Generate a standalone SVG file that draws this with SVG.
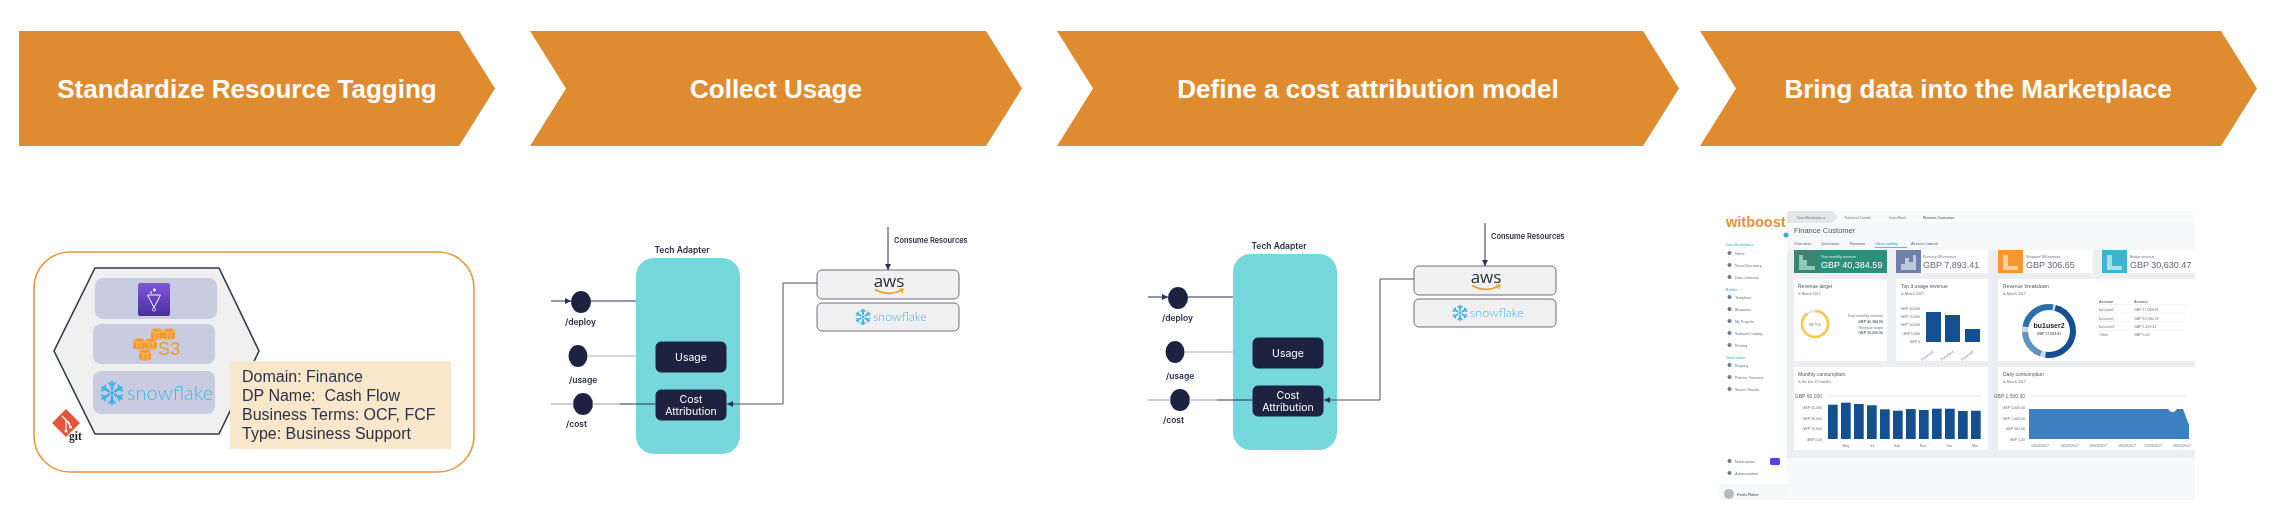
<svg xmlns="http://www.w3.org/2000/svg" width="2280" height="532" viewBox="0 0 2280 532">
<style>
text{font-family:"Liberation Sans",Arial,sans-serif;white-space:pre}
.step{fill:#df8c31}
.stept{fill:#fff;font-size:26px;font-weight:700;text-anchor:middle}
.tag{fill:#2b3048;font-size:16px}
.inter{font-family:Inter,"Liberation Sans",sans-serif;fill:#1f2540;font-weight:600}
.ta{fill:#76d7dd}
.box{fill:#1d2440;stroke:#1d2440}
.boxt{fill:#fff;font-size:10.5px;text-anchor:middle;font-family:Inter,"Liberation Sans",sans-serif}
.port{fill:#1d2440}
.svc{fill:#f0f0f0;stroke:#6b6e78;stroke-width:1}
.dark{fill:none;stroke:#2b3150;stroke-width:1}
.mid{fill:none;stroke:#4a5068;stroke-width:1}
.light{fill:none;stroke:#a9acbc;stroke-width:1.2}
.sn{fill:#4ab5e6;font-family:Lato,"Liberation Sans",sans-serif;font-weight:300}
.row{fill:#c9cce0}
.p{fill:#fff}
.s{font-size:3.6px;fill:#6b7280}
.m{font-size:4px;fill:#55606e}
.h{font-size:5px;fill:#555}
.b{fill:#14508f}
.k{font-size:9px;fill:#667}
.ti{fill:#667a88}
</style>
<defs>
<marker id="ah" markerWidth="7" markerHeight="7" refX="6" refY="3" orient="auto" markerUnits="userSpaceOnUse"><path d="M0 0L6 3L0 6Z" fill="#2b3150"/></marker>
<filter id="soft" x="-2%" y="-2%" width="104%" height="104%"><feGaussianBlur stdDeviation="0.35"/></filter>
<filter id="softer" x="-2%" y="-2%" width="104%" height="104%"><feGaussianBlur stdDeviation="0.55"/></filter>
<linearGradient id="pg" x1="0" y1="0" x2="0" y2="1"><stop offset="0" stop-color="#7d57dc"/><stop offset="1" stop-color="#4c2e9e"/></linearGradient>
<symbol id="flake" viewBox="-11 -11 22 22" overflow="visible">
<g fill="none" stroke="#3fb0e8" stroke-width="2.4" stroke-linecap="round">
<path d="M0 -10V-3.5M0 10V3.5M-8.7 -5L-3 -1.8M8.7 -5L3 -1.8M-8.7 5L-3 1.8M8.7 5L3 1.8"/>
<path d="M-3 -9L0 -6.5L3 -9M-3 9L0 6.5L3 9M-9.3 -2L-6 -3.5L-6.2 -7M9.3 -2L6 -3.5L6.2 -7M-9.3 2L-6 3.5L-6.2 7M9.3 2L6 3.5L6.2 7" stroke-width="1.6"/>
</g><path d="M0 -2.2L2.2 0L0 2.2L-2.2 0Z" fill="#3fb0e8"/>
</symbol>
<g id="cube"><path d="M-6 -3L-3 -5.5H3L6 -3V4L3 5.5H-3L-6 4Z" fill="#f59a2f"/><path d="M-6 -3L0 -1L6 -3M-2 -1V5.5M2 -1V5.5" fill="none" stroke="#fbc98c" stroke-width="0.7"/></g>
<g id="aws-logo"><text x="0" y="0" text-anchor="middle" font-size="17" style="font-family:'Open Sans','Liberation Sans',sans-serif" fill="#2b2f38">aws</text><path d="M-14 2.5Q0 10 13 3" fill="none" stroke="#f39a1f" stroke-width="1.6"/><path d="M10 2L14 2L13 6" fill="none" stroke="#f39a1f" stroke-width="1.2"/></g>
</defs>

<g id="step-1"><path class="step" d="M19 31H459L495 88.5L459 146H19Z"/><text class="stept" x="247" y="98">Standardize Resource Tagging</text></g>
<g id="step-2"><path class="step" d="M530 31H986L1022 88.5L986 146H530L566 88.5Z"/><text class="stept" x="776" y="98">Collect Usage</text></g>
<g id="step-3"><path class="step" d="M1057 31H1643L1679 88.5L1643 146H1057L1093 88.5Z"/><text class="stept" x="1368" y="98">Define a cost attribution model</text></g>
<g id="step-4"><path class="step" d="M1700 31H2221L2257 88.5L2221 146H1700L1736 88.5Z"/><text class="stept" x="1978" y="98">Bring data into the Marketplace</text></g>

<g id="data-product" filter="url(#soft)">
<rect x="34" y="252" width="440" height="220" rx="36" fill="#fff" stroke="#e8963c" stroke-width="1.6"/>
<path d="M95 268H219L259 351L219 434H95L54 351Z" fill="#f0f0f0" stroke="#333a4a" stroke-width="1.6"/>
<rect class="row" x="95" y="278" width="122" height="41" rx="8"/>
<rect class="row" x="93" y="324" width="122" height="40" rx="8"/>
<rect class="row" x="93" y="371" width="122" height="43" rx="8"/>
<rect x="138" y="283" width="32" height="33" rx="2" fill="url(#pg)"/>
<path d="M147.5 295H160.5L154 307.5Z" fill="none" stroke="#fff" stroke-width="1"/><circle cx="154" cy="309.5" r="1.6" fill="none" stroke="#fff" stroke-width=".7"/><circle cx="154.5" cy="290" r="1.4" fill="#fff"/><circle cx="151" cy="292.5" r="1" fill="#fff"/>
<use href="#cube" x="157" y="334"/><use href="#cube" x="169" y="334"/><use href="#cube" x="139" y="344"/><use href="#cube" x="151" y="344"/><use href="#cube" x="145" y="355"/>
<text x="158" y="355" font-size="18" fill="#f29a2e">S3</text>
<use href="#flake" x="100" y="381" width="24" height="24"/>
<text class="sn" x="127" y="400" font-size="20">snowflake</text>
<path d="M66 409L80 423L66 437L52 423Z" fill="#e4573a"/><path d="M62 416L70 424M66 420V431M66 420L71 427" stroke="#fff" stroke-width="1.2" fill="none"/><circle cx="66" cy="431" r="1.5" fill="#fff"/><circle cx="70.500" cy="427" r="1.5" fill="#fff"/>
<text x="69" y="440" font-size="11.500" font-weight="700" style="font-family:'Liberation Serif',serif" fill="#222">git</text>
<rect x="230" y="361" width="221" height="88" fill="#f9e7cc"/>
<text class="tag" x="242" y="382">Domain: Finance</text>
<text class="tag" x="242" y="401">DP Name:  Cash Flow</text>
<text class="tag" x="242" y="420">Business Terms: OCF, FCF</text>
<text class="tag" x="242" y="439">Type: Business Support</text>
</g>

<g id="adapter-a-nodes" filter="url(#soft)">
<g id="a-tech-adapter"><rect class="ta" x="636" y="258" width="104" height="196" rx="18"/><text class="inter" x="682" y="253" text-anchor="middle" font-size="8.500">Tech Adapter</text></g>
<g id="a-usage"><rect class="box" x="656" y="342" width="70" height="30" rx="5"/><text class="boxt" x="691" y="361">Usage</text></g>
<g id="a-cost"><rect class="box" x="656" y="390" width="70" height="30" rx="5"/><text class="boxt" x="691" y="403">Cost</text><text class="boxt" x="691" y="414.500">Attribution</text></g>
<g id="a-deploy-port"><ellipse class="port" cx="581" cy="302" rx="10" ry="11"/><text class="inter" x="565" y="325" font-size="8.500">/deploy</text></g>
<g id="a-usage-port"><ellipse class="port" cx="578" cy="356" rx="9.500" ry="11"/><text class="inter" x="569" y="383" font-size="8.500">/usage</text></g>
<g id="a-cost-port"><ellipse class="port" cx="583" cy="404" rx="10" ry="11"/><text class="inter" x="566" y="427" font-size="8.500">/cost</text></g>
<g id="a-aws"><rect class="svc" x="817" y="270" width="142" height="29" rx="5"/><use href="#aws-logo" x="889" y="287"/></g>
<g id="a-snowflake"><rect class="svc" x="817" y="303" width="142" height="28" rx="5"/><use href="#flake" x="855" y="309" width="16" height="16"/><text class="sn" x="873" y="321" font-size="12.500">snowflake</text></g>
<g id="a-consume"><text class="inter" x="894" y="243" font-size="7.400">Consume Resources</text></g>
</g>
<g id="adapter-a-connectors">
<path class="dark" d="M551 301H571" marker-end="url(#ah)"/>
<path class="dark" d="M590 301H636"/>
<path class="light" d="M587 356H636"/>
<path class="light" d="M551 404H574"/>
<path class="light" d="M592 404H620"/>
<path class="dark" d="M620 404H656"/>
<path class="dark" d="M888 227V270" marker-end="url(#ah)"/>
<path class="mid" d="M817 283H783V404H727" marker-end="url(#ah)"/>
</g>

<g id="adapter-b-nodes" filter="url(#soft)">
<g id="b-tech-adapter" transform="translate(597 -4)"><rect class="ta" x="636" y="258" width="104" height="196" rx="18"/><text class="inter" x="682" y="253" text-anchor="middle" font-size="8.500">Tech Adapter</text></g>
<g id="b-usage" transform="translate(597 -4)"><rect class="box" x="656" y="342" width="70" height="30" rx="5"/><text class="boxt" x="691" y="361">Usage</text></g>
<g id="b-cost" transform="translate(597 -4)"><rect class="box" x="656" y="390" width="70" height="30" rx="5"/><text class="boxt" x="691" y="403">Cost</text><text class="boxt" x="691" y="414.500">Attribution</text></g>
<g id="b-deploy-port" transform="translate(597 -4)"><ellipse class="port" cx="581" cy="302" rx="10" ry="11"/><text class="inter" x="565" y="325" font-size="8.500">/deploy</text></g>
<g id="b-usage-port" transform="translate(597 -4)"><ellipse class="port" cx="578" cy="356" rx="9.500" ry="11"/><text class="inter" x="569" y="383" font-size="8.500">/usage</text></g>
<g id="b-cost-port" transform="translate(597 -4)"><ellipse class="port" cx="583" cy="404" rx="10" ry="11"/><text class="inter" x="566" y="427" font-size="8.500">/cost</text></g>
<g id="b-aws" transform="translate(597 -4)"><rect class="svc" x="817" y="270" width="142" height="29" rx="5"/><use href="#aws-logo" x="889" y="287"/></g>
<g id="b-snowflake" transform="translate(597 -4)"><rect class="svc" x="817" y="303" width="142" height="28" rx="5"/><use href="#flake" x="855" y="309" width="16" height="16"/><text class="sn" x="873" y="321" font-size="12.500">snowflake</text></g>
<g id="b-consume" transform="translate(597 -4)"><text class="inter" x="894" y="243" font-size="7.400">Consume Resources</text></g>
</g>
<g id="adapter-b-connectors" transform="translate(597 -4)">
<path class="dark" d="M551 301H571" marker-end="url(#ah)"/>
<path class="dark" d="M590 301H636"/>
<path class="light" d="M587 356H636"/>
<path class="light" d="M551 404H574"/>
<path class="light" d="M592 404H620"/>
<path class="dark" d="M620 404H656"/>
<path class="dark" d="M888 227V270" marker-end="url(#ah)"/>
<path class="mid" d="M817 283H783V404H727" marker-end="url(#ah)"/>
</g>

<g id="marketplace-screenshot" filter="url(#softer)">
<rect x="1787" y="211" width="408" height="247" fill="#eceef1"/>
<rect x="1787" y="223" width="408" height="27" fill="#f6f7f8"/>
<rect x="1787" y="211" width="408" height="12" fill="#f9fafa"/>
<path d="M1787 211H1832L1838 217L1832 223H1787Z" fill="#e4e6ea"/>
<rect x="1787" y="458" width="408" height="42" fill="#f7f8f9"/>
<rect x="1719" y="484" width="68" height="16" fill="#f6f7f8"/>

<text class="s" x="1797" y="218.500">Data Marketplace</text><text class="s" x="1844" y="218.500">Technical Details</text><text class="s" x="1889" y="218.500">Data Mesh</text><text class="s" x="1923" y="218.500" font-weight="700">Finance Customer</text>
<text x="1726" y="227" font-size="14.500" font-weight="700" fill="#e8923a">witboost</text>
<circle cx="1786" cy="235" r="2.500" fill="#36a9d6"/>
<g>
<text class="s" x="1726" y="245.500" style="fill:#36a9c6">Data Marketplace</text>
<circle class="ti" cx="1729.500" cy="253" r="2"/><text class="s" x="1735" y="254.500">Home</text>
<circle class="ti" cx="1729.500" cy="265" r="2"/><text class="s" x="1735" y="266.500">Visual Discovery</text>
<circle class="ti" cx="1729.500" cy="277" r="2"/><text class="s" x="1735" y="278.500">Data Contracts</text>
<text class="s" x="1726" y="290.500" style="fill:#36a9c6">Builder</text>
<circle class="ti" cx="1729.500" cy="297" r="2"/><text class="s" x="1735" y="298.500">Templates</text>
<circle class="ti" cx="1729.500" cy="309" r="2"/><text class="s" x="1735" y="310.500">Blueprints</text>
<circle class="ti" cx="1729.500" cy="321" r="2"/><text class="s" x="1735" y="322.500">My Projects</text>
<circle class="ti" cx="1729.500" cy="333" r="2"/><text class="s" x="1735" y="334.500">Software Catalog</text>
<circle class="ti" cx="1729.500" cy="345" r="2"/><text class="s" x="1735" y="346.500">Resting</text>
<text class="s" x="1726" y="358.500" style="fill:#36a9c6">Governance</text>
<circle class="ti" cx="1729.500" cy="365" r="2"/><text class="s" x="1735" y="366.500">Registry</text>
<circle class="ti" cx="1729.500" cy="377" r="2"/><text class="s" x="1735" y="378.500">Policies Overview</text>
<circle class="ti" cx="1729.500" cy="389" r="2"/><text class="s" x="1735" y="390.500">Search Results</text>
<circle class="ti" cx="1729.500" cy="461" r="2"/><text class="s" x="1735" y="462.500">Notifications</text>
<rect x="1770" y="458" width="10" height="7" rx="1.500" fill="#5b3ff0"/>
<circle class="ti" cx="1729.500" cy="473" r="2"/><text class="s" x="1735" y="474.500">Administration</text>
<circle cx="1729" cy="494" r="5" fill="#b5b8bc"/><text class="s" x="1737" y="495.500" font-weight="700">Paolo Platter</text>
</g>
<text x="1794" y="233" font-size="7.500" fill="#555">Finance Customer</text>
<text class="m" x="1794" y="245">Overview</text><text class="m" x="1821" y="245">Questions</text><text class="m" x="1850" y="245">Reviews</text><text class="m" x="1875" y="245" style="fill:#36a0b0">Observability</text><text class="m" x="1911" y="245">Access Control</text>
<rect x="1875" y="247" width="32" height=".8" fill="#36a9c6"/>

<rect x="1794" y="250" width="93" height="23" fill="#2f8f7c"/><rect x="1794" y="250" width="25" height="23" fill="#3a8571"/>
<rect x="1896" y="250" width="92" height="23" class="p"/><rect x="1896" y="250" width="25" height="23" fill="#7080a8"/>
<rect x="1998" y="250" width="95" height="23" class="p"/><rect x="1998" y="250" width="25" height="23" fill="#f7972e"/>
<rect x="2102" y="250" width="93" height="23" class="p"/><rect x="2102" y="250" width="25" height="23" fill="#3eb5d0"/>
<path d="M1799 270V255H1803V260H1807V266H1815V270Z" fill="#8fc9b8"/><path d="M1901 270V264H1905V258H1909V262H1913V255H1916V270Z" fill="#c0c9dc"/><path d="M2003 270V255H2008V266H2018V270Z" fill="#fbd0a0"/><path d="M2107 270V255H2112V266H2122V270Z" fill="#a8e0ea"/>
<text class="s" x="1821" y="258" style="fill:#e0f0ea">Year monthly revenue</text><text class="k" x="1821" y="268" style="fill:#fff">GBP 40,384.59</text>
<text class="s" x="1923" y="258">Running 6M revenue</text><text class="k" x="1923" y="268">GBP 7,893.41</text>
<text class="s" x="2026" y="258">Shopped 1M revenue</text><text class="k" x="2026" y="268">GBP 306.65</text>
<text class="s" x="2130" y="258">Bridge revenue</text><text class="k" x="2130" y="268">GBP 30,630.47</text>

<rect class="p" x="1794" y="279" width="93" height="82"/><rect class="p" x="1896" y="279" width="92" height="82"/><rect class="p" x="1998" y="279" width="197" height="82"/>
<rect class="p" x="1794" y="367" width="194" height="83"/><rect class="p" x="1998" y="367" width="197" height="83"/>

<text class="h" x="1798" y="288">Revenue target</text><text class="s" x="1798" y="295">in March 2017</text>
<circle cx="1815" cy="324" r="13" fill="none" stroke="#e6e6e6" stroke-width="2.500"/><circle cx="1815" cy="324" r="13" fill="none" stroke="#fbc94a" stroke-width="2.500" stroke-dasharray="73 82" transform="rotate(-90 1815 324)"/>
<text class="s" x="1815" y="325.500" text-anchor="middle">98.71%</text>
<g text-anchor="end"><text class="s" x="1883" y="316.500">Total monthly revenue</text><text class="s" x="1883" y="322.500" font-weight="700">GBP 40,384.59</text><text class="s" x="1883" y="328.500">Revenue target</text><text class="s" x="1883" y="334" font-weight="700">GBP 35,000.00</text></g>

<text class="h" x="1901" y="288">Top 3 usage revenue</text><text class="s" x="1901" y="295">in March 2017</text>
<g text-anchor="end"><text class="s" x="1920" y="309.500">GBP 20,000</text><text class="s" x="1920" y="317.500">GBP 15,000</text><text class="s" x="1920" y="325.500">GBP 10,000</text><text class="s" x="1920" y="334.500">GBP 5,000</text><text class="s" x="1920" y="342.500">GBP 0</text></g>
<rect class="b" x="1926" y="312" width="15" height="30"/><rect class="b" x="1945" y="315" width="15" height="27"/><rect class="b" x="1965" y="329" width="15" height="13"/>
<text class="s" transform="rotate(-35 1930 355)" x="1920" y="355">bu1user2</text><text class="s" transform="rotate(-35 1950 355)" x="1940" y="355">bu1user1</text><text class="s" transform="rotate(-35 1970 355)" x="1960" y="355">bu1user3</text>

<text class="h" x="2003" y="288">Revenue breakdown</text><text class="s" x="2003" y="295">in March 2017</text>
<g fill="none" stroke-width="6"><circle cx="2049" cy="331" r="24" stroke="#c7d6e8"/><circle cx="2049" cy="331" r="24" stroke="#14508f" stroke-dasharray="72 79" stroke-dashoffset="0" transform="rotate(-75 2049 331)"/><circle cx="2049" cy="331" r="24" stroke="#5b94c8" stroke-dasharray="28 123" transform="rotate(110 2049 331)"/><circle cx="2049" cy="331" r="24" stroke="#2c6fae" stroke-dasharray="37 114" transform="rotate(190 2049 331)"/></g>
<text x="2049" y="328" text-anchor="middle" font-size="7" font-weight="700" fill="#222">bu1user2</text><text class="s" x="2049" y="335" text-anchor="middle" font-weight="700">GBP 17,083.81</text>
<g><text class="s" x="2099" y="302.500" font-weight="700">Account</text><text class="s" x="2134" y="302.500" font-weight="700">Amount</text>
<text class="s" x="2099" y="311">bu1user2</text><text class="s" x="2134" y="311">GBP 17,083.81</text>
<text class="s" x="2099" y="319.500">bu1user1</text><text class="s" x="2134" y="319.500">GBP 10,565.23</text>
<text class="s" x="2099" y="328">bu1user3</text><text class="s" x="2134" y="328">GBP 1,429.41</text>
<text class="s" x="2099" y="336">Other</text><text class="s" x="2134" y="336">GBP 5.00</text>
<path d="M2099 304.500H2186M2099 313H2186M2099 321.500H2186M2099 330H2186" stroke="#e4e6ea" stroke-width=".5"/></g>

<text class="h" x="1798" y="376">Monthly consumption</text><text class="s" x="1798" y="383">in the last 12 months</text>
<rect x="1827" y="395" width="155" height="2.500" fill="#f3f3f3"/>
<g text-anchor="end"><text x="1822" y="398" font-size="5" fill="#666">GBP 60,000</text><text class="s" x="1822" y="408.500">GBP 45,000</text><text class="s" x="1822" y="419.500">GBP 30,000</text><text class="s" x="1822" y="429.500">GBP 15,000</text><text class="s" x="1822" y="440.500">GBP 0.00</text></g>
<g class="b"><rect x="1828" y="404.700" width="9.700" height="34.300"/><rect x="1841" y="402.700" width="9.700" height="36.300"/><rect x="1854" y="404" width="9.700" height="35"/><rect x="1867" y="405.300" width="9.700" height="33.700"/><rect x="1880" y="409.300" width="9.700" height="29.700"/><rect x="1893" y="410.700" width="9.700" height="28.300"/><rect x="1906" y="409" width="9.700" height="30"/><rect x="1919" y="410" width="9.700" height="29"/><rect x="1932" y="408.700" width="9.700" height="30.300"/><rect x="1945" y="408.700" width="9.700" height="30.300"/><rect x="1958" y="411" width="9.700" height="28"/><rect x="1971" y="410.700" width="9.700" height="28.300"/></g>
<g text-anchor="middle"><text class="s" x="1846" y="446.500">May</text><text class="s" x="1872" y="446.500">Jul</text><text class="s" x="1897" y="446.500">Sep</text><text class="s" x="1923" y="446.500">Nov</text><text class="s" x="1949" y="446.500">Jan</text><text class="s" x="1975" y="446.500">Mar</text></g>

<text class="h" x="2003" y="376">Daily consumption</text><text class="s" x="2003" y="383">in March 2017</text>
<rect x="2029" y="395" width="158" height="2.500" fill="#f3f3f3"/>
<g text-anchor="end"><text x="2025" y="398" font-size="5" fill="#666">GBP 1,500.00</text><text class="s" x="2025" y="408.500">GBP 1,000.00</text><text class="s" x="2025" y="419.500">GBP 1,000.00</text><text class="s" x="2025" y="429.500">GBP 500.00</text><text class="s" x="2025" y="440.500">GBP 0.00</text></g>
<path d="M2029 409H2168L2171 412H2174L2177 409H2183L2189 425V439H2029Z" fill="#3d80bf"/>
<g text-anchor="middle"><text class="s" x="2040" y="446.500">13/03/2017</text><text class="s" x="2070" y="446.500">06/03/2017</text><text class="s" x="2098" y="446.500">10/03/2017</text><text class="s" x="2127" y="446.500">18/03/2017</text><text class="s" x="2153" y="446.500">22/03/2017</text><text class="s" x="2182" y="446.500">28/03/2017</text></g>
</g>
</svg>
